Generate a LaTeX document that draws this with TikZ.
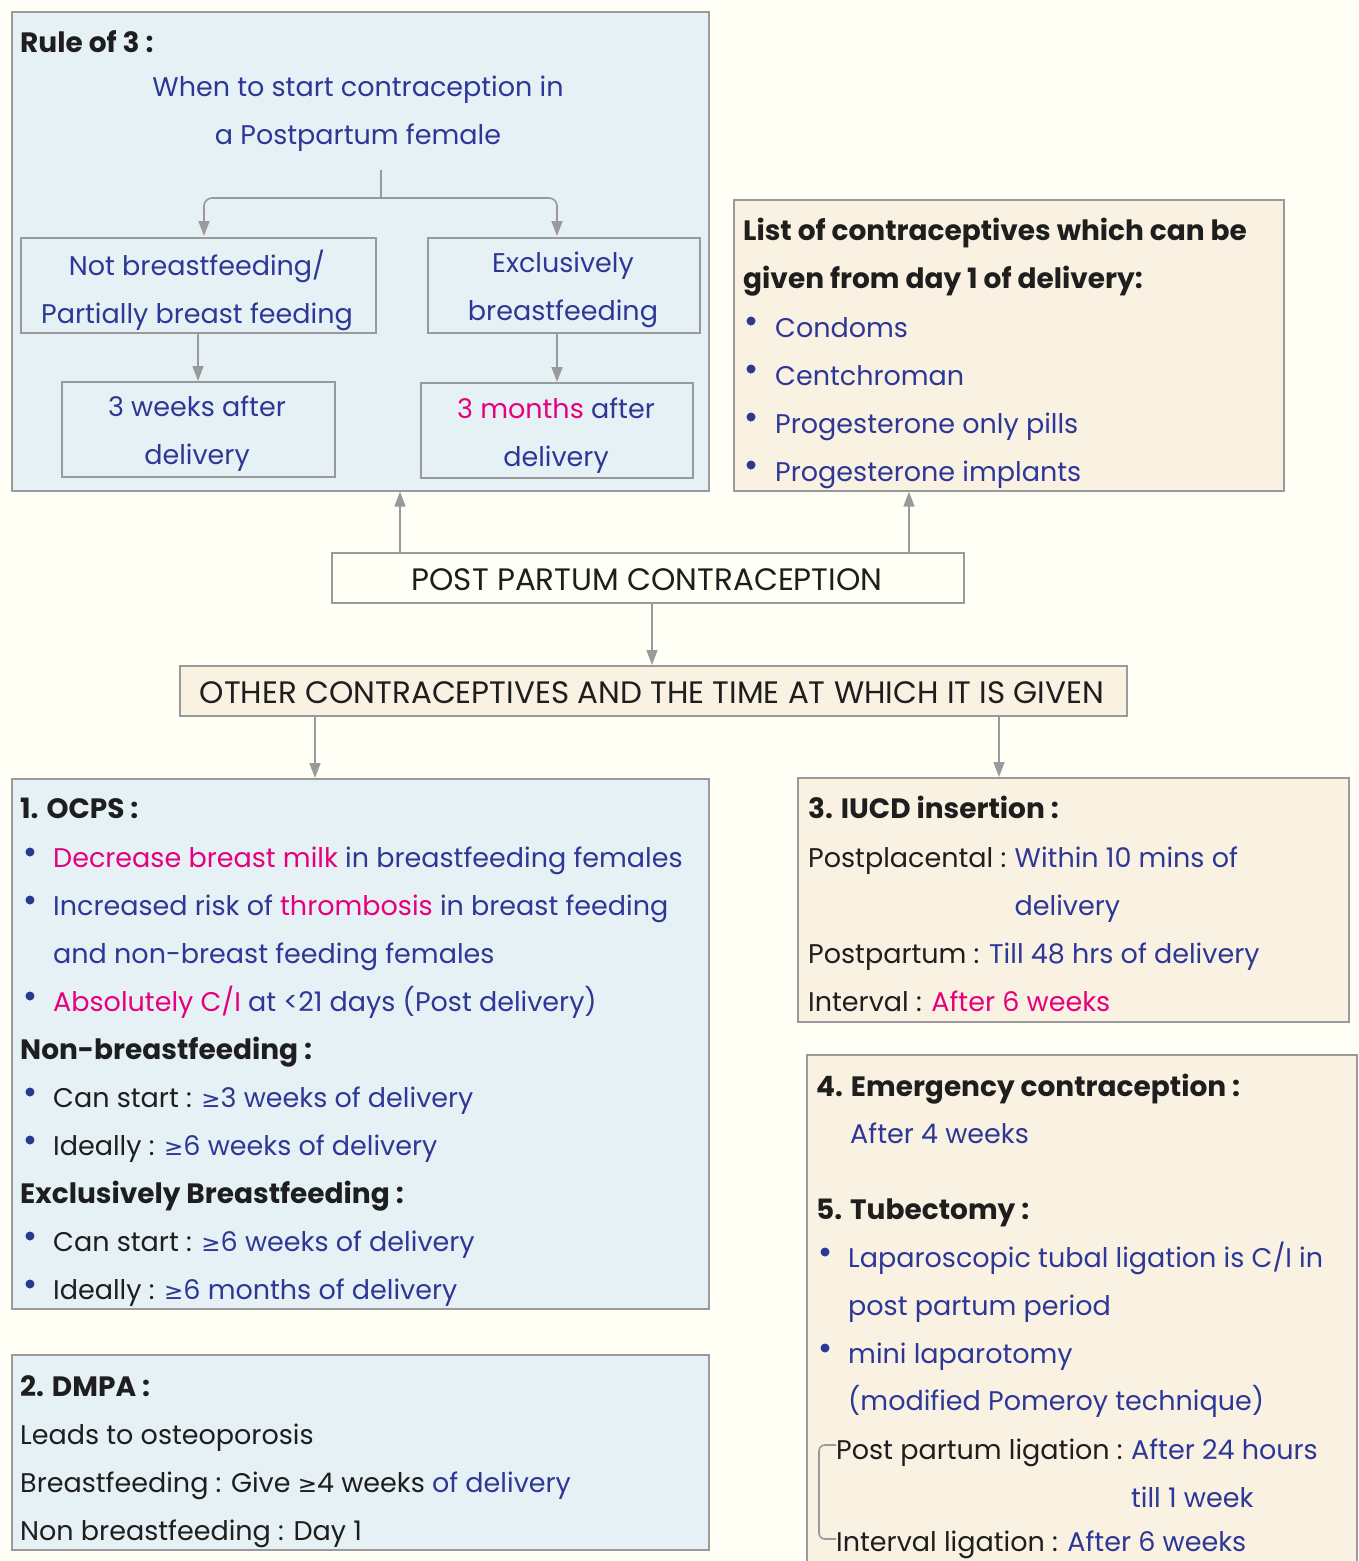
\documentclass[tikz,border=0pt]{standalone}
\usepackage{fontspec}
\setmainfont{Poppins}
\newfontfamily\symf{DejaVu Sans}
\usetikzlibrary{arrows.meta}
\definecolor{bgc}{HTML}{FFFFF6}
\definecolor{bluef}{HTML}{E6F1F6}
\definecolor{creamf}{HTML}{F9F1E2}
\definecolor{bordc}{HTML}{9A9A9C}
\definecolor{tblue}{HTML}{2D3896}
\definecolor{tpink}{HTML}{E6007E}
\definecolor{tblack}{HTML}{1E1E1E}
\newcommand{\pk}[1]{\textcolor{tpink}{#1}}
\newcommand{\bk}[1]{\textcolor{tblack}{#1}}
\newcommand{\bl}[1]{\textcolor{tblue}{#1}}
\newcommand{\gsym}{{\symf\fontsize{23pt}{23pt}\selectfont ≥}}
\tikzset{
  x=1pt, y=-1pt,
  box/.style={draw=bordc, line width=1.6pt, inner sep=0pt, anchor=north west},
  bluebox/.style={box, fill=bluef},
  creambox/.style={box, fill=creamf},
  conn/.style={draw=bordc, line width=1.6pt, -{Triangle[length=15pt,width=11pt]}},
  txt/.style={anchor=base west, inner sep=0pt, text=tblue, font=\fontsize{27pt}{48pt}\selectfont},
  hd/.style={txt, text=tblack, font=\fontsize{28pt}{48pt}\selectfont\bfseries},
  ctxt/.style={anchor=center, align=center, inner sep=0pt, text=tblue, font=\fontsize{27pt}{48pt}\selectfont},
  capt/.style={anchor=center, inner sep=0pt, text=tblack, font=\fontsize{31pt}{34pt}\selectfont},
  dot/.style={circle, fill=tblue, inner sep=0pt, minimum size=9pt},
}
\begin{document}
\begin{tikzpicture}
\fill[bgc] (0,0) rectangle (1358,1561);
\useasboundingbox (0,0) rectangle (1358,1561);

% ---------- Rule of 3 box ----------
\node[bluebox, minimum width=697pt, minimum height=479pt] (rule) at (11,11) {};
\node[hd] (ruleT) at (20,52) {Rule of 3 :};
\node[ctxt] (q) at (358,114) {When to start contraception in\\a Postpartum female};
\node[box, fill=bluef, minimum width=355pt, minimum height=95pt] (nb) at (20,237) {};
\node[ctxt] (nbT) at (197,290) {Not breastfeeding/\\Partially breast feeding};
\node[box, fill=bluef, minimum width=272pt, minimum height=95pt] (eb) at (427,237) {};
\node[ctxt] (ebT) at (563,290) {Exclusively\\breastfeeding};
\node[box, fill=bluef, minimum width=273pt, minimum height=95pt] (w3) at (61,381) {};
\node[ctxt] (w3T) at (197,434) {3 weeks after\\delivery};
\node[box, fill=bluef, minimum width=272pt, minimum height=95pt] (m3) at (420,382) {};
\node[ctxt] (m3T) at (556,436) {\pk{3 months} after\\delivery};

\coordinate (qs) at (381,170);
\coordinate (split) at (381,198);
\coordinate (nbIn) at (204,236);
\coordinate (ebIn) at (557,236);
\draw[draw=bordc, line width=1.6pt] (qs) -- (split);
\draw[conn, rounded corners=8pt] (split) -| (nbIn);
\draw[conn, rounded corners=8pt] (split) -| (ebIn);
\draw[conn] (nb.south -| 198,0) -- (w3.north -| 198,0);
\draw[conn] (eb.south -| 557,0) -- (m3.north -| 557,0);

% ---------- List box ----------
\node[creambox, minimum width=550pt, minimum height=291pt] (list) at (733,199) {};
\node[hd] (listT1) at (743,240) {List of contraceptives which can be};
\node[hd] (listT2) at (743,288) {given from day 1 of delivery:};
\foreach \yy/\tt [count=\i] in {337/Condoms, 385/Centchroman, 433/Progesterone only pills, 481/Progesterone implants}{
  \node[dot] (lb\i) at (751,\yy-16) {};
  \node[txt] (li\i) at (775,\yy) {\tt};
}

% ---------- central nodes ----------
\node[box, fill=bgc, minimum width=632pt, minimum height=50pt] (pp) at (331,552) {};
\node[capt] (ppT) at (647,580) {POST PARTUM CONTRACEPTION};
\draw[conn] (pp.north -| 400,0) -- (rule.south -| 400,0);
\draw[conn] (pp.north -| 909,0) -- (list.south -| 909,0);
\node[creambox, minimum width=947pt, minimum height=50pt] (oc) at (179,665) {};
\node[capt] (ocT) at (652,693) {OTHER CONTRACEPTIVES AND THE TIME AT WHICH IT IS GIVEN};
\draw[conn] (pp.south -| 652,0) -- (oc.north -| 652,0);

% ---------- OCPS box ----------
\node[bluebox, minimum width=697pt, minimum height=530pt] (ocp) at (11,778) {};
\draw[conn] (oc.south -| 315,0) -- (ocp.north -| 315,0);
\node[hd] (o0) at (20,818) {1. OCPS :};
\node[dot] (ob1) at (30,852) {};
\node[txt] (o1) at (53,867) {\pk{Decrease breast milk} in breastfeeding females};
\node[dot] (ob2) at (30,900) {};
\node[txt] (o2) at (53,915) {Increased risk of \pk{thrombosis} in breast feeding};
\node[txt] (o3) at (53,963) {and non-breast feeding females};
\node[dot] (ob4) at (30,996) {};
\node[txt] (o4) at (53,1011) {\pk{Absolutely C/I} at <21 days (Post delivery)};
\node[hd] (o5) at (20,1059) {Non-breastfeeding :};
\node[dot] (ob6) at (30,1092) {};
\node[txt] (o6) at (53,1107) {\bk{Can start :} \gsym3 weeks of delivery};
\node[dot] (ob7) at (30,1140) {};
\node[txt] (o7) at (53,1155) {\bk{Ideally :} \gsym6 weeks of delivery};
\node[hd] (o8) at (20,1203) {Exclusively Breastfeeding :};
\node[dot] (ob9) at (30,1236) {};
\node[txt] (o9) at (53,1251) {\bk{Can start :} \gsym6 weeks of delivery};
\node[dot] (ob10) at (30,1284) {};
\node[txt] (o10) at (53,1299) {\bk{Ideally :} \gsym6 months of delivery};

% ---------- DMPA box ----------
\node[bluebox, minimum width=697pt, minimum height=195pt] (dm) at (11,1354) {};
\node[hd] (d0) at (20,1396) {2. DMPA :};
\node[txt, text=tblack] (d1) at (20,1444) {Leads to osteoporosis};
\node[txt, text=tblack] (d2) at (20,1492) {Breastfeeding : Give \gsym4 weeks \bl{of delivery}};
\node[txt, text=tblack] (d3) at (20,1540) {Non breastfeeding : Day 1};

% ---------- IUCD box ----------
\node[creambox, minimum width=551pt, minimum height=244pt] (iu) at (797,777) {};
\draw[conn] (oc.south -| 999,0) -- (iu.north -| 999,0);
\node[hd] (i0) at (808,818) {3. IUCD insertion :};
\node[txt, text=tblack] (i1a) at (808,867) {Postplacental :};
\node[txt, anchor=base west] (i1b) at ([xshift=8pt]i1a.base east) {Within 10 mins of};
\node[txt] (i2) at ([yshift=-48pt]i1b.base west) {delivery};
\node[txt] (i3) at (808,963) {\bk{Postpartum :} Till 48 hrs of delivery};
\node[txt] (i4) at (808,1011) {\bk{Interval :} \pk{After 6 weeks}};

% ---------- Emergency / Tubectomy box ----------
\node[creambox, minimum width=550pt, minimum height=530pt] (em) at (806,1054) {};
\node[hd] (e0) at (816,1096) {4. Emergency contraception :};
\node[txt] (e1) at (850,1143) {After 4 weeks};
\node[hd] (e2) at (816,1219) {5. Tubectomy :};
\node[dot] (eb3) at (825,1252) {};
\node[txt] (e3) at (848,1267) {Laparoscopic tubal ligation is C/I in};
\node[txt] (e4) at (848,1315) {post partum period};
\node[dot] (eb5) at (825,1348) {};
\node[txt] (e5) at (848,1363) {mini laparotomy};
\node[txt] (e6) at (848,1410) {(modified Pomeroy technique)};
\node[txt, text=tblack] (e7a) at (836,1459) {Post partum ligation :};
\node[txt] (e7b) at ([xshift=8pt]e7a.base east) {After 24 hours};
\node[txt] (e8) at ([yshift=-48pt]e7b.base west) {till 1 week};
\node[txt] (e9) at (836,1551) {\bk{Interval ligation :} After 6 weeks};
\draw[draw=bordc, line width=1.6pt, rounded corners=6pt] (e7a.west |- 0,1445) -- (819,1445) -- (819,1539) -- (e9.west |- 0,1539);
\end{tikzpicture}
\end{document}
